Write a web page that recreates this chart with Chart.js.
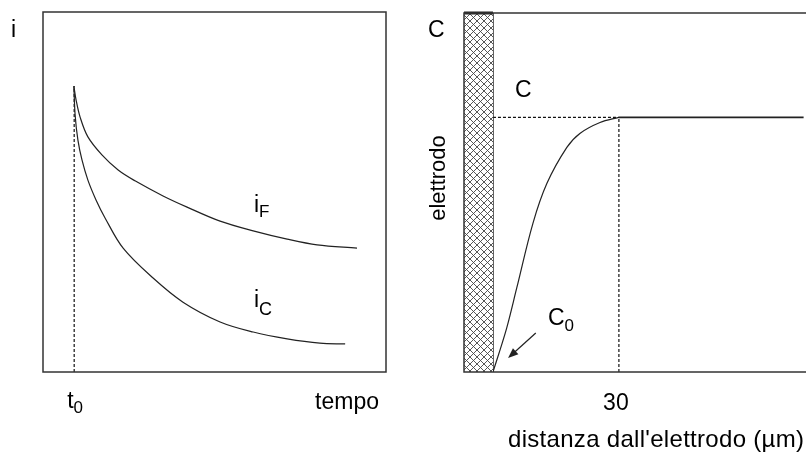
<!DOCTYPE html>
<html>
<head>
<meta charset="utf-8">
<script src="https://cdn.jsdelivr.net/npm/chart.js@4"></script>
<style>
  html, body { margin: 0; padding: 0; background: #fff; overflow: hidden; width: 806px; height: 454px; }
  .panel { position: absolute; top: 0; height: 454px; }
  #left-panel { left: 0; width: 400px; }
  #right-panel { left: 400px; width: 420px; }
</style>
</head>
<body>
<div class="panel" id="left-panel"><canvas id="current-chart" width="400" height="454"></canvas></div>
<div class="panel" id="right-panel"><canvas id="profile-chart" width="420" height="454"></canvas></div>
<script>
// left panel: current decay after t0
const t0 = 1.0;
const timeF = [0.99, 1.06, 1.19, 1.44, 1.89, 2.41, 2.95, 3.85, 4.62, 5.68, 6.74, 7.83, 8.79, 10.07];
const currentF = [7.94, 7.56, 7.08, 6.53, 6.03, 5.61, 5.31, 4.89, 4.58, 4.19, 3.92, 3.69, 3.53, 3.44];
const timeC = [0.99, 1.03, 1.12, 1.25, 1.44, 1.70, 1.99, 2.57, 3.53, 4.49, 5.68, 6.74, 7.83, 8.88, 9.69];
const currentC = [7.94, 7.14, 6.44, 5.89, 5.33, 4.78, 4.28, 3.44, 2.61, 1.94, 1.39, 1.11, 0.92, 0.80, 0.78];

// right panel: concentration profile near the electrode
const electrodeEdge = -6.9;
const diffusionLayer = 30;
const bulkEnd = 74;
const distance = [0, 1.67, 3.33, 5.71, 9.52, 12.86, 17.6, 20.7, 25.5, 30];
const concentration = [0, 0.086, 0.176, 0.333, 0.584, 0.741, 0.882, 0.937, 0.980, 1.0];
const bulkConc = 1.0;
const profileTicks = [30];
const arrowFrom = [10.2, 0.153];
const arrowTo = [3.6, 0.055];

const FONT = '"Liberation Sans", Arial, sans-serif';
const INK = '#222';

function toPoints(xs, ys) {
  return xs.map((x, i) => ({ x: x, y: ys[i] }));
}

function lineSet(data, extra) {
  return Object.assign({
    data: data,
    borderColor: INK,
    borderWidth: 1.2,
    pointRadius: 0,
    fill: false,
    tension: 0
  }, extra || {});
}

function curve(data) {
  return lineSet(data, { tension: 0.35 });
}

function dashed(data) {
  return lineSet(data, { borderDash: [3, 2], borderWidth: 1.2, borderColor: '#111' });
}

function sub(ctx, main, small, x, y, size, subSize, dy) {
  ctx.font = size + 'px ' + FONT;
  ctx.textAlign = 'left';
  ctx.fillText(main, x, y);
  const w = ctx.measureText(main).width;
  ctx.font = subSize + 'px ' + FONT;
  ctx.fillText(small, x + w, y + dy);
}

function frame(chart) {
  const a = chart.chartArea;
  const ctx = chart.ctx;
  ctx.save();
  ctx.strokeStyle = '#333';
  ctx.lineWidth = 1.5;
  ctx.strokeRect(a.left, a.top, a.right - a.left, a.bottom - a.top);
  ctx.restore();
}

function baseOptions(xmin, xmax, ymin, ymax, pad) {
  return {
    responsive: false,
    animation: false,
    layout: { padding: pad },
    plugins: { legend: { display: false }, tooltip: { enabled: false } },
    scales: {
      x: { type: 'linear', display: false, min: xmin, max: xmax },
      y: { type: 'linear', display: false, min: ymin, max: ymax }
    }
  };
}

const leftLabels = {
  id: 'leftLabels',
  afterDatasetsDraw(chart) {
    frame(chart);
    const ctx = chart.ctx;
    const xs = chart.scales.x;
    ctx.save();
    ctx.fillStyle = '#000';
    ctx.font = '23px ' + FONT;
    ctx.textAlign = 'left';
    ctx.fillText('i', 11, 37);
    sub(ctx, 't', '0', xs.getPixelForValue(t0) - 7, 408, 23, 17, 5);
    ctx.font = '23px ' + FONT;
    ctx.textAlign = 'right';
    ctx.fillText('tempo', 379, 409);
    sub(ctx, 'i', 'F', 254, 212, 23, 17, 5);
    sub(ctx, 'i', 'C', 254, 307, 23, 18, 8);
    ctx.restore();
  }
};

const rightLabels = {
  id: 'rightLabels',
  afterDatasetsDraw(chart) {
    frame(chart);
    const ctx = chart.ctx;
    const xs = chart.scales.x;
    const ys = chart.scales.y;
    ctx.save();
    ctx.fillStyle = '#000';
    ctx.font = '23px ' + FONT;
    ctx.textAlign = 'left';
    ctx.fillText('C', 28, 37);
    ctx.fillText('C', 115, 97);
    sub(ctx, 'C', '0', 148, 325, 23, 17, 6);
    ctx.font = '23px ' + FONT;
    ctx.textAlign = 'center';
    profileTicks.forEach(v => ctx.fillText(String(v), xs.getPixelForValue(v) - 3, 410));
    ctx.textAlign = 'left';
    ctx.font = '24px ' + FONT;
    ctx.letterSpacing = '0.3px';
    ctx.fillText("distanza dall'elettrodo (\u00b5m)", 108, 447);
    ctx.letterSpacing = '0px';
    ctx.save();
    ctx.translate(45, 178);
    ctx.rotate(-Math.PI / 2);
    ctx.font = '22px ' + FONT;
    ctx.textAlign = 'center';
    ctx.fillText('elettrodo', 0, 0);
    ctx.restore();

    // arrow pointing at C0
    const x1 = xs.getPixelForValue(arrowFrom[0]), y1 = ys.getPixelForValue(arrowFrom[1]);
    const x2 = xs.getPixelForValue(arrowTo[0]), y2 = ys.getPixelForValue(arrowTo[1]);
    const ang = Math.atan2(y2 - y1, x2 - x1);
    ctx.strokeStyle = INK;
    ctx.lineWidth = 1.2;
    ctx.beginPath();
    ctx.moveTo(x1, y1);
    ctx.lineTo(x2 - 6 * Math.cos(ang), y2 - 6 * Math.sin(ang));
    ctx.stroke();
    ctx.fillStyle = INK;
    ctx.beginPath();
    ctx.moveTo(x2, y2);
    ctx.lineTo(x2 - 11 * Math.cos(ang - 0.38), y2 - 11 * Math.sin(ang - 0.38));
    ctx.lineTo(x2 - 11 * Math.cos(ang + 0.38), y2 - 11 * Math.sin(ang + 0.38));
    ctx.closePath();
    ctx.fill();
    ctx.restore();
  }
};

function hatchPattern() {
  const c = document.createElement('canvas');
  c.width = 7;
  c.height = 7;
  const g = c.getContext('2d');
  g.fillStyle = '#fff';
  g.fillRect(0, 0, 7, 7);
  g.strokeStyle = '#444';
  g.lineWidth = 0.9;
  g.beginPath();
  g.moveTo(0, 0); g.lineTo(7, 7);
  g.moveTo(7, 0); g.lineTo(0, 7);
  g.stroke();
  return g.createPattern(c, 'repeat');
}

new Chart(document.getElementById('current-chart').getContext('2d'), {
  type: 'line',
  data: {
    datasets: [
      curve(toPoints(timeF, currentF)),
      curve(toPoints(timeC, currentC)),
      dashed([{ x: t0, y: 0 }, { x: t0, y: currentF[0] }])
    ]
  },
  options: baseOptions(0, 11, 0, 10, { left: 43, top: 12, right: 14, bottom: 82 }),
  plugins: [leftLabels]
});

const yTop = 1.41;
new Chart(document.getElementById('profile-chart').getContext('2d'), {
  type: 'line',
  data: {
    datasets: [
      lineSet([{ x: electrodeEdge, y: yTop }, { x: 0, y: yTop }], {
        fill: 'origin', backgroundColor: hatchPattern(), borderWidth: 3, clip: false
      }),
      lineSet([{ x: 0, y: 0 }, { x: 0, y: yTop }], { borderWidth: 1.5 }),
      dashed([{ x: 0, y: bulkConc }, { x: diffusionLayer, y: bulkConc }]),
      dashed([{ x: diffusionLayer, y: 0 }, { x: diffusionLayer, y: bulkConc }]),
      curve(toPoints(distance, concentration)),
      lineSet([{ x: diffusionLayer, y: bulkConc }, { x: bulkEnd, y: bulkConc }], { borderWidth: 1.6 })
    ]
  },
  options: baseOptions(electrodeEdge, 76, 0, yTop, { left: 64, top: 13, right: 8, bottom: 82 }),
  plugins: [rightLabels]
});
</script>
</body>
</html>
